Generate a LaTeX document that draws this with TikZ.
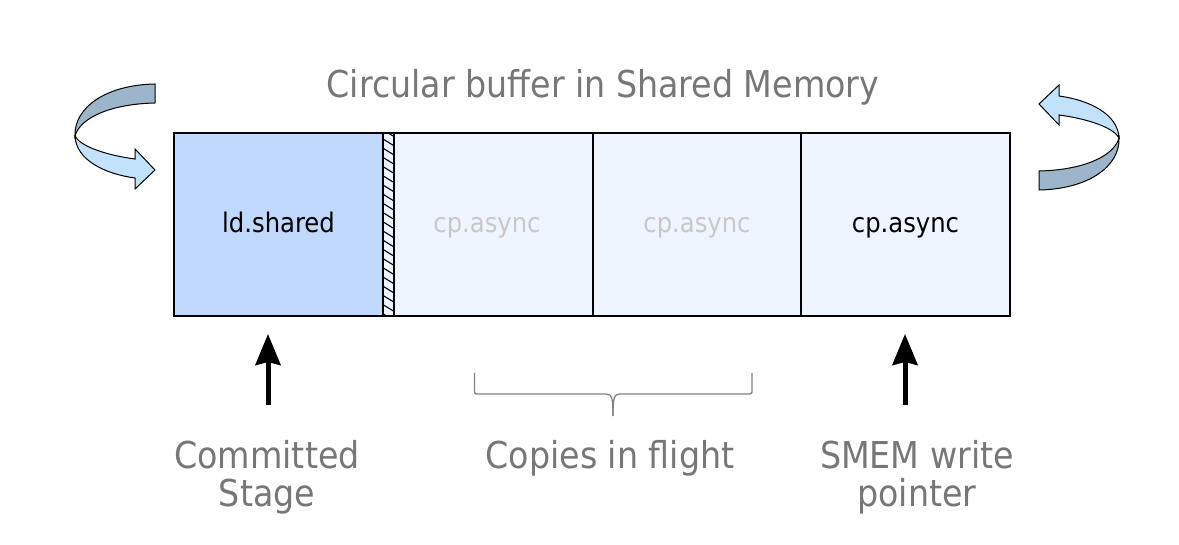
\documentclass[tikz,border=0pt]{standalone}
\usepackage{fontspec}
\setmainfont{DejaVu Sans Condensed}
\usetikzlibrary{arrows.meta}
\definecolor{cellblue}{RGB}{191,216,252}
\definecolor{celllight}{RGB}{239,245,255}
\definecolor{fadedtext}{RGB}{200,200,200}
\definecolor{labelgray}{RGB}{119,119,119}
\definecolor{ribbondark}{RGB}{157,181,203}
\definecolor{ribbonlight}{RGB}{194,225,251}
\definecolor{bracegray}{RGB}{130,130,130}
\tikzset{
  cell/.style={draw=black, line width=2pt, minimum height=183pt, inner sep=0pt,
    text height=20pt, text depth=3pt, font=\fontsize{27}{30}\selectfont},
  lbl/.style={text=labelgray, align=center, font=\fontsize{37}{38}\selectfont},
  ptr/.style={line width=5pt, -{Stealth[length=31pt,width=25pt,inset=3pt]}},
  ribbon/.style={draw=black, line width=1pt},
  bracestyle/.style={draw=bracegray, line width=1.3pt}
}
\begin{document}
\begin{tikzpicture}[x=1pt,y=-1pt]
\useasboundingbox (0,0) rectangle (1179,545);
\fill[white] (0,0) rectangle (1179,545);
% title
\node[lbl] (title) at (603,87) {Circular buffer in Shared Memory};
% cells
\node[cell, fill=cellblue, minimum width=209pt] (c1) at (278.5,224.5) {ld.shared};
\node[cell, fill=celllight, minimum width=11pt] (strip) at (388.5,224.5) {};
\begin{scope}
  \clip (383,133) rectangle (394,316);
  \foreach \yy in {120,129.2,...,325} {
    \draw[line width=1.1pt] (382,\yy) -- (395,\yy+8);
  }
\end{scope}
\node[cell, line width=2pt, minimum width=11pt] at (388.5,224.5) {};
\node[cell, fill=celllight, minimum width=200pt, text=fadedtext] (c2) at (494,224.5) {\hspace*{-14pt}cp.async};
\node[cell, fill=celllight, minimum width=208pt, text=fadedtext] (c3) at (697,224.5) {cp.async};
\node[cell, fill=celllight, minimum width=209pt] (c4) at (905.5,224.5) {cp.async};
\draw[line width=2.5pt] (174,133) rectangle (1010,316);
% pointers
\coordinate (p1) at (268,405);
\coordinate (p1t) at (268,334);
\coordinate (p2) at (905,405);
\coordinate (p2t) at (905,334);
\draw[ptr] (p1) -- (p1t);
\draw[ptr] (p2) -- (p2t);
% brace
\coordinate (bl) at (474.5,373);
\coordinate (br) at (752,373);
\coordinate (bt) at (613,416);
\draw[bracestyle] (bl) -- (474.5,389) .. controls (474.5,394) .. (479,394) -- (606,394)
  .. controls (612,394) and (613,398) .. (bt);
\draw[bracestyle] (br) -- (752,389) .. controls (752,394) .. (747.5,394) -- (620,394)
  .. controls (614,394) and (613,398) .. (bt);
% labels
\node[lbl] (lab1) at (267,477) {Committed\\Stage};
\node[lbl] (lab2) at (610,458) {Copies in flight};
\node[lbl] (lab3) at (917,477) {SMEM write\\pointer};
% curved arrows
\newcommand{\ribbonarrow}{%
  \filldraw[ribbon, fill=ribbondark] (155,84) .. controls (105,85) and (74,108) .. (75,136)
    .. controls (80,118) and (110,104) .. (155,103) -- cycle;
  \filldraw[ribbon, fill=ribbonlight] (75,136) .. controls (76,160) and (105,174) .. (135,178)
    -- (135,189) -- (155,170) -- (135,149) -- (135,159)
    .. controls (105,155) and (80,146) .. (75,136) -- cycle;
}
\ribbonarrow
\begin{scope}[rotate around={180:(597,137)}]
\ribbonarrow
\end{scope}
\end{tikzpicture}
\end{document}
